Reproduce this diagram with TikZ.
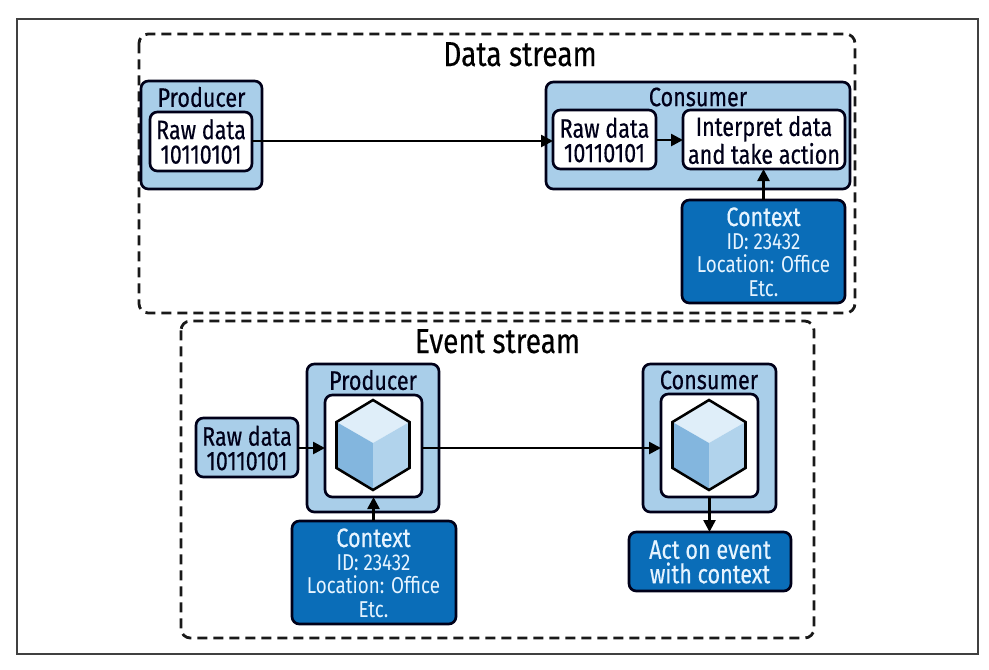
\documentclass[tikz,border=0pt]{standalone}
\usepackage{fontspec}
\setmainfont[FakeStretch=0.82]{Fira Sans}
\newfontfamily\medfont[FakeStretch=0.81,FakeBold=0.35]{Fira Sans}
\usetikzlibrary{arrows.meta}
\definecolor{lblue}{HTML}{A9CEE9}
\definecolor{dblue}{HTML}{0A6DB8}
\definecolor{ctxt}{HTML}{E6F4FF}
\definecolor{ctop}{HTML}{DFEEF9}
\definecolor{cleft}{HTML}{83B6DE}
\definecolor{cright}{HTML}{B1D3EC}
\tikzset{
  x=0.75pt,y=-0.75pt,
  pxbox/.style={rounded corners=5.5pt,draw=black!90!blue,line width=2pt},
  frame/.style={draw=black!90,line width=2.1pt,rounded corners=7pt,dash pattern=on 7.5pt off 4.5pt},
  lightbox/.style={pxbox,fill=lblue},
  whitebox/.style={pxbox,fill=white},
  darkbox/.style={pxbox,fill=dblue},
  lbl/.style={font=\medfont\fontsize{20}{18.3}\selectfont,align=center,inner sep=0pt,text=black!90!blue},
  clbl/.style={font=\fontsize{17.2}{17.6}\selectfont,align=center,inner sep=0pt,text=ctxt},
  ttl/.style={font=\medfont\fontsize{26}{26}\selectfont,inner sep=0pt,text=black,anchor=base},
  conn/.style={draw=black,line width=1.9pt,-{Triangle[length=9pt,width=9pt]}},
  hexline/.style={draw=black,line width=1.9pt,line join=miter},
}
\newcommand{\cube}[2]{% cx, cy-top
  \fill[ctop] (#1,#2) -- (#1+36.5,#2+22) -- (#1,#2+43) -- (#1-36.5,#2+22) -- cycle;
  \fill[cleft] (#1-36.5,#2+22) -- (#1,#2+43) -- (#1,#2+90) -- (#1-36.5,#2+68) -- cycle;
  \fill[cright] (#1+36.5,#2+22) -- (#1,#2+43) -- (#1,#2+90) -- (#1+36.5,#2+68) -- cycle;
  \draw[hexline] (#1,#2) -- (#1+36.5,#2+22) -- (#1+36.5,#2+68) -- (#1,#2+90) -- (#1-36.5,#2+68) -- (#1-36.5,#2+22) -- cycle;
}
\begin{document}
\begin{tikzpicture}
\useasboundingbox (0,0) rectangle (989,669);
\fill[white] (0,0) rectangle (989,669);
\draw[draw=black!75,line width=0.9pt] (17,19) rectangle (978,654);
% data stream
\path[frame] (139,34) rectangle (855,313);
\node[ttl] (dst) at (520,66) {Data stream};
\path[lightbox] (141,81) rectangle (262,189);
\node[lbl] (p1t) at (201.5,97) {Producer};
\path[whitebox] (150,112) rectangle (252,171);
\node[lbl] (p1r) at (201,141.5) {Raw data\\10110101};
\coordinate (p1E) at (252,141);
\path[lightbox] (546,82) rectangle (850,189);
\node[lbl] (c1t) at (698,97) {Consumer};
\path[whitebox] (553,110) rectangle (656,169);
\node[lbl] (c1r) at (604.5,140) {Raw data\\10110101};
\path[whitebox] (683,110) rectangle (845,169);
\node[lbl] (c1i) at (764,140) {Interpret data\\and take action};
\coordinate (c1rW) at (553,141);
\coordinate (c1rE) at (656,140);
\coordinate (c1iW) at (683,140);
\coordinate (c1iS) at (763.5,169);
\path[darkbox] (682,200) rectangle (845,303);
\coordinate (ctx1N) at (763.5,200);
\node[clbl] (ctx1) at (763.5,252) {{\medfont\fontsize{20}{17.6}\selectfont Context}\\ID: 23432\\Location: Office\\Etc.};
\draw[conn] (p1E) -- (c1rW);
\draw[conn] (c1rE) -- (c1iW);
\draw[conn] (ctx1N) -- (c1iS);
% event stream
\path[frame] (181,321) rectangle (814,638);
\node[ttl] (est) at (497.5,353) {Event stream};
\path[lightbox] (196,418) rectangle (298,477);
\node[lbl] (r2) at (247,448) {Raw data\\10110101};
\coordinate (r2E) at (298,448);
\path[lightbox] (307,364) rectangle (439,512);
\node[lbl] (p2t) at (373,380) {Producer};
\path[whitebox] (325,395) rectangle (422,497);
\cube{373}{400}
\coordinate (p2W) at (325,448);
\coordinate (p2E) at (422,448);
\coordinate (p2S) at (373.5,497);
\path[lightbox] (643,364) rectangle (776,512);
\node[lbl] (c2t) at (709,380) {Consumer};
\path[whitebox] (661,394) rectangle (758,497);
\cube{709}{400}
\coordinate (c2W) at (661,448);
\coordinate (c2S) at (709.5,497);
\path[darkbox] (292,521) rectangle (456,624);
\coordinate (ctx2N) at (373.5,521);
\node[clbl] (ctx2) at (373.5,573) {{\medfont\fontsize{20}{17.6}\selectfont Context}\\ID: 23432\\Location: Office\\Etc.};
\path[darkbox] (629,532) rectangle (791,591);
\node[lbl,text=ctxt] (act) at (710,562) {Act on event\\with context};
\coordinate (actN) at (709.5,532);
\draw[conn] (r2E) -- (p2W);
\draw[conn] (p2E) -- (c2W);
\draw[conn] (ctx2N) -- (p2S);
\draw[conn] (c2S) -- (actN);
\end{tikzpicture}
\end{document}
